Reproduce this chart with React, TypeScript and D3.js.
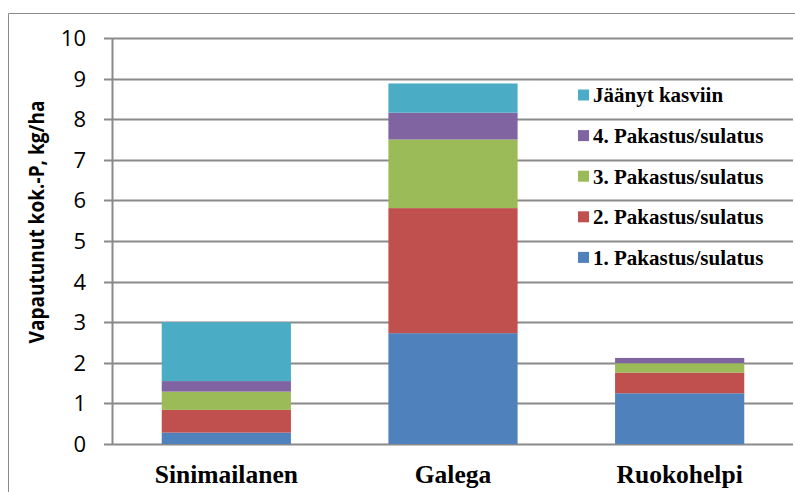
import { useEffect, useRef } from "react";
import * as d3 from "d3";

const categories = ["Sinimailanen", "Galega", "Ruokohelpi"];
const seriesNames = [
  "1. Pakastus/sulatus",
  "2. Pakastus/sulatus",
  "3. Pakastus/sulatus",
  "4. Pakastus/sulatus",
  "Jäänyt kasviin",
];
const seriesColors = ["#4F81BD", "#C0504D", "#9BBB59", "#8064A2", "#4BACC6"];
// values per series, one per category
const freeze1 = [0.28, 2.73, 1.25];
const freeze2 = [0.56, 3.08, 0.51];
const freeze3 = [0.45, 1.69, 0.23];
const freeze4 = [0.26, 0.66, 0.13];
const leftInPlant = [1.45, 0.72, 0.0];
const yTicks = [0, 1, 2, 3, 4, 5, 6, 7, 8, 9, 10];

const SERIF = "'Times New Roman', 'Liberation Serif', 'DejaVu Serif', Times, serif";

export default function App() {
  const ref = useRef<SVGSVGElement>(null);

  useEffect(() => {
    if (!ref.current) return;
    const svg = d3.select(ref.current);
    svg.selectAll("*").remove();

    const W = 795, H = 492;
    const m = { top: 38, right: 2, bottom: 48, left: 113 };
    const iW = W - m.left - m.right;
    const iH = H - m.top - m.bottom;

    // frame
    svg.append("path")
      .attr("d", `M8.5,${H} V13.5 H${W}`)
      .attr("fill", "none")
      .attr("stroke", "#8c8c8c")
      .attr("stroke-width", 1);

    const x = d3.scaleBand().domain(categories).range([0, iW]).paddingInner(0.43).paddingOuter(0.215);
    const y = d3.scaleLinear().domain([0, 10]).range([iH, 0]);

    const g = svg.append("g").attr("transform", `translate(${m.left},${m.top})`);

    // gridlines
    g.append("g").selectAll("line")
      .data(yTicks)
      .enter().append("line")
      .attr("x1", 0).attr("x2", iW)
      .attr("y1", d => Math.round(y(d)) + 0.5).attr("y2", d => Math.round(y(d)) + 0.5)
      .attr("stroke", "#8a8a8a")
      .attr("stroke-width", 2);

    // stacked bars
    const values = [freeze1, freeze2, freeze3, freeze4, leftInPlant];
    const rows = categories.map((c, i) => {
      const r: Record<string, number | string> = { cat: c };
      seriesNames.forEach((s, k) => { r[s] = values[k][i]; });
      return r;
    });
    const stack = d3.stack<Record<string, number | string>>().keys(seriesNames);
    const layers = stack(rows);

    layers.forEach((layer, k) => {
      g.append("g").selectAll("rect")
        .data(layer)
        .enter().append("rect")
        .attr("x", d => x(d.data.cat as string)!)
        .attr("width", x.bandwidth())
        .attr("y", d => y(d[1]))
        .attr("height", d => Math.max(0, y(d[0]) - y(d[1])))
        .attr("fill", seriesColors[k]);
    });

    // y axis
    g.append("line")
      .attr("x1", -0.5).attr("x2", -0.5)
      .attr("y1", y(10)).attr("y2", y(0))
      .attr("stroke", "#8a8a8a").attr("stroke-width", 2);
    g.append("g").selectAll("line")
      .data(yTicks)
      .enter().append("line")
      .attr("x1", -9).attr("x2", 0)
      .attr("y1", d => Math.round(y(d)) + 0.5).attr("y2", d => Math.round(y(d)) + 0.5)
      .attr("stroke", "#8a8a8a").attr("stroke-width", 2);
    g.append("g").selectAll("text")
      .data(yTicks)
      .enter().append("text")
      .attr("x", -27)
      .attr("y", d => y(d))
      .attr("dy", "0.36em")
      .attr("text-anchor", "end")
      .attr("font-family", "'Open Sans', 'Liberation Sans', sans-serif")
      .attr("font-size", "22px")
      .attr("fill", "#000")
      .text(d => d);

    // y title (Calibri-like: narrower than Open Sans, so squeeze to width)
    svg.append("text")
      .attr("transform", `translate(44,222) rotate(-90)`)
      .attr("text-anchor", "middle")
      .attr("font-family", "'Open Sans', 'Liberation Sans', sans-serif")
      .attr("font-weight", "700")
      .attr("font-size", "20.5px")
      .attr("textLength", 243)
      .attr("lengthAdjust", "spacingAndGlyphs")
      .attr("fill", "#000")
      .text("Vapautunut kok.-P, kg/ha");

    // category labels
    g.append("g").selectAll("text")
      .data(categories)
      .enter().append("text")
      .attr("x", d => x(d)! + x.bandwidth() / 2)
      .attr("y", iH + 39)
      .attr("text-anchor", "middle")
      .attr("font-family", SERIF)
      .attr("font-weight", "700")
      .attr("font-size", "25.5px")
      .attr("fill", "#000")
      .text(d => d);

    // legend (top to bottom in reverse series order)
    const legendNames = seriesNames.slice().reverse();
    const legendColors = seriesColors.slice().reverse();
    const lg = svg.append("g").attr("transform", "translate(578,95)");
    legendNames.forEach((name, i) => {
      const row = lg.append("g").attr("transform", `translate(0,${i * 40.6})`);
      row.append("rect")
        .attr("x", 0).attr("y", -5.5)
        .attr("width", 11).attr("height", 11)
        .attr("fill", legendColors[i]);
      row.append("text")
        .attr("x", 15)
        .attr("y", 0)
        .attr("dy", "0.35em")
        .attr("font-family", SERIF)
        .attr("font-weight", "700")
        .attr("font-size", "21px")
        .attr("fill", "#000")
        .text(name);
    });
  }, []);

  return (
    <svg
      ref={ref}
      width={795}
      height={492}
      style={{ position: "absolute", left: 0, top: 0, background: "#fff" }}
    />
  );
}
